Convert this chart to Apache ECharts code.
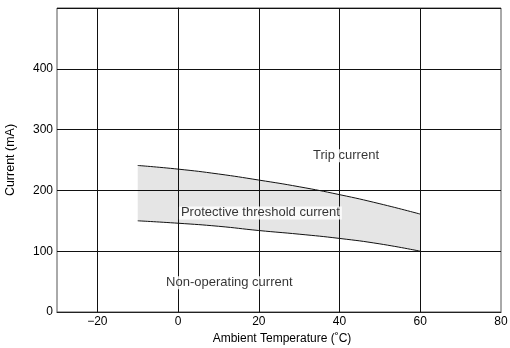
<!DOCTYPE html>
<html>
<head>
<meta charset="utf-8">
<script src="https://cdn.jsdelivr.net/npm/echarts@6/dist/echarts.min.js"></script>
<style>
  html, body { margin: 0; padding: 0; background: #fff; }
  #chart { width: 510px; height: 348px; }
</style>
</head>
<body>
<div id="chart"></div>
<script>
// temperature points along the curves
var temps = [-10, 0, 10, 20, 30, 40, 50, 60];
// trip current (upper curve), mA
var tripCurrent = [241, 235, 227, 217, 206, 193, 178, 161];
// non-operating limit (lower curve), mA
var nonOpCurrent = [150, 146, 141, 134, 128, 121, 112, 100];
// vertical grid lines
var xGridTicks = [-20, 0, 20, 40, 60];
// annotation texts [x, y, text]
var notes = [
	[41.6, 257, 'Trip current'],
	[20.4, 163, 'Protective threshold current'],
	[12.7, 48, 'Non-operating current']
];

var FONT = 'Liberation Sans';

function pairs(xs, ys) {
	var out = [];
	for (var i = 0; i < xs.length; i++) {
		out.push([xs[i], ys[i]]);
	}
	return out;
}

// grey band between the two curves
function renderBand(params, api) {
	var pts = [];
	var i;
	for (i = 0; i < temps.length; i++) {
		pts.push(api.coord([temps[i], tripCurrent[i]]));
	}
	for (i = temps.length - 1; i >= 0; i--) {
		pts.push(api.coord([temps[i], nonOpCurrent[i]]));
	}
	return {
		type : 'polygon',
		shape : { points : pts },
		style : { fill : 'rgba(0,0,0,0.1)', stroke : null }
	};
}

function genOption() {
	var option = {
		animation : false,
		textStyle : { fontFamily : FONT },
		grid : {
			left : 57,
			right : 9,
			top : 8,
			bottom : 36,
			outerBoundsMode : 'none',
			show : true,
			borderColor : '#555',
			borderWidth : 1
		},
		xAxis : {
			type : 'value',
			min : -30,
			max : 80,
			interval : 10,
			name : 'Ambient Temperature (\u02DAC)',
			nameLocation : 'middle',
			nameGap : 20,
			nameTextStyle : { color : '#000', fontSize : 12, fontFamily : FONT, padding : [0, 0, 0, 6] },
			axisLine : { lineStyle : { color : '#222', width : 1 } },
			axisTick : { show : false },
			splitLine : { show : false },
			axisLabel : {
				color : '#000',
				fontSize : 12,
				margin : 4,
				fontFamily : FONT,
				formatter : function (v) {
					if (v % 20 !== 0) return '';
					return v < 0 ? '\u2212' + Math.abs(v) : String(v);
				}
			}
		},
		yAxis : {
			type : 'value',
			min : 0,
			max : 500,
			interval : 100,
			name : 'Current (mA)',
			nameLocation : 'middle',
			nameGap : 40,
			nameTextStyle : { color : '#000', fontSize : 12.5, fontFamily : FONT },
			axisLine : { show : true, lineStyle : { color : '#222', width : 1 } },
			axisTick : { show : false },
			splitLine : { show : true, lineStyle : { color : '#111', width : 1 } },
			axisLabel : {
				color : '#000',
				fontSize : 12,
				margin : 4,
				fontFamily : FONT,
				showMaxLabel : false
			}
		},
		series : [ {
			name : 'band',
			type : 'custom',
			renderItem : renderBand,
			data : [ 0 ],
			silent : true,
			z : 1
		}, {
			name : 'grid',
			type : 'line',
			data : [],
			markLine : {
				silent : true,
				symbol : 'none',
				label : { show : false },
				lineStyle : { color : '#111', width : 1, type : 'solid' },
				data : xGridTicks.map(function (t) { return { xAxis : t }; })
			},
			z : 2
		}, {
			name : 'nonop',
			type : 'line',
			data : pairs(temps, nonOpCurrent),
			smooth : true,
			symbol : 'none',
			lineStyle : { color : '#111', width : 1 },
			z : 3
		}, {
			name : 'trip',
			type : 'line',
			data : pairs(temps, tripCurrent),
			smooth : true,
			symbol : 'none',
			lineStyle : { color : '#111', width : 1 },
			z : 3
		}, {
			name : 'notes',
			type : 'scatter',
			symbolSize : 0,
			data : notes.map(function (n) { return { value : [n[0], n[1]], text : n[2] }; }),
			label : {
				show : true,
				position : 'inside',
				color : '#000',
				fontSize : 13,
				fontFamily : FONT,
				backgroundColor : '#fff',
				padding : [0, 2],
				formatter : function (p) { return p.data.text; }
			},
			z : 5
		} ]
	};
	return option;
}

var chart = echarts.init(document.getElementById('chart'));
chart.setOption(genOption(), true);
</script>
</body>
</html>
